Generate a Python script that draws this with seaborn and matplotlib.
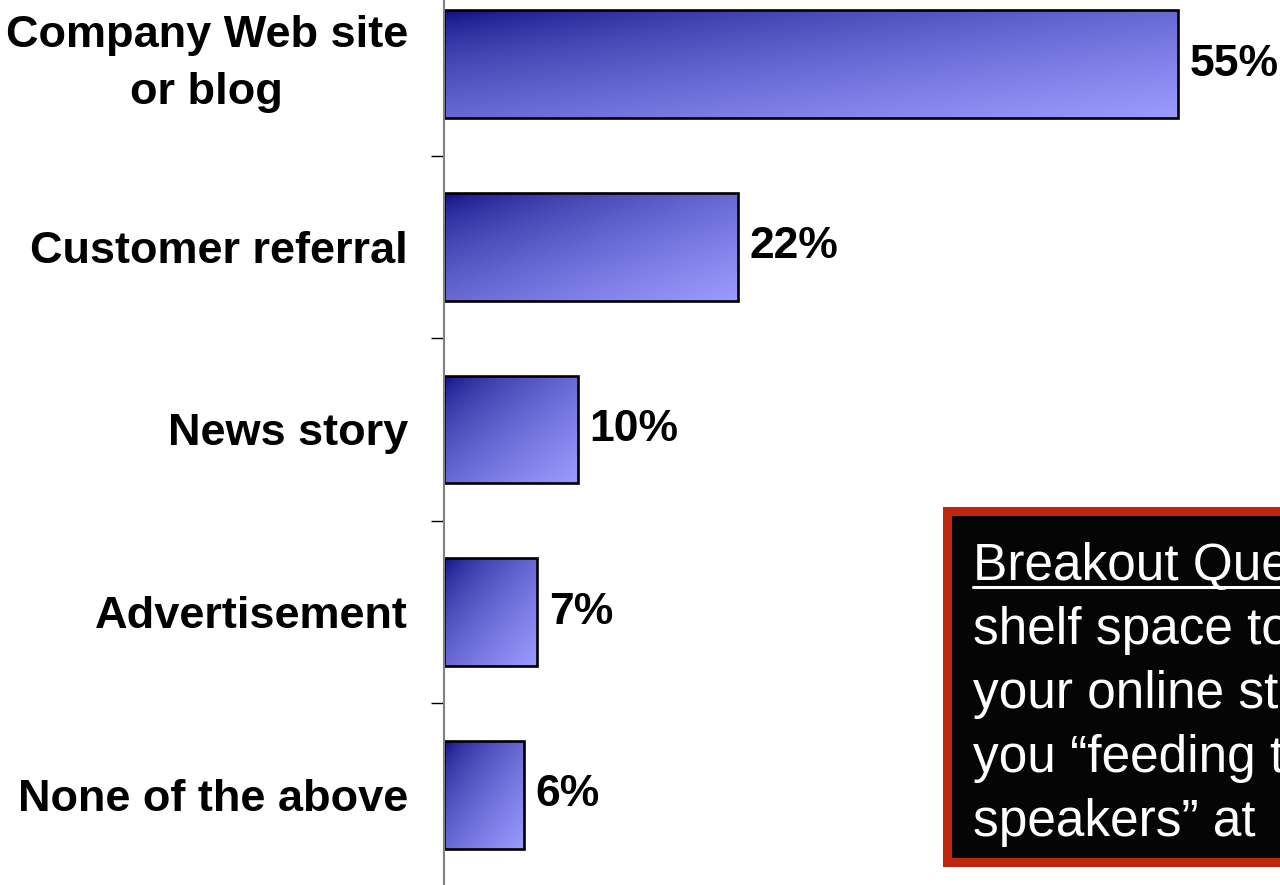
import numpy as np
import pandas as pd
import matplotlib
matplotlib.use("Agg")
import matplotlib.pyplot as plt
from matplotlib.colors import LinearSegmentedColormap
from matplotlib.patches import Rectangle
from matplotlib.lines import Line2D
import seaborn as sns

categories = ["Company Web site\nor blog", "Customer referral", "News story",
              "Advertisement", "None of the above"]
shares = [55, 22, 10, 7, 6]
value_labels = ["55%", "22%", "10%", "7%", "6%"]
callout_lines = ["Breakout Question:", "shelf space to", "your online store",
                 "you \u201cfeeding the", "speakers\u201d at"]

sns.set_theme(style="white")
plt.rcParams["font.family"] = ["Liberation Sans", "DejaVu Sans"]

W, H, DPI = 1280, 885, 100
fig = plt.figure(figsize=(W / DPI, H / DPI), dpi=DPI)
fig.patch.set_facecolor("white")

# axes: left spine at x=444px, rows 183px tall, top row partly above the canvas
ax = fig.add_axes([444 / W, -1 / H, (W - 444) / W, 913 / H])
ax.set_facecolor("white")

df = pd.DataFrame({"category": categories, "share": shares})
sns.barplot(data=df, x="share", y="category", orient="h", width=0.59,
            color="#5050b0", edgecolor="black", linewidth=1.9, ax=ax)

XMAX = 836 / 13.35
ax.set_xlim(0, XMAX)
ax.set_ylim(4.5, -0.5)

# diagonal gradient fill (dark navy top-left -> periwinkle bottom-right)
grad_cmap = LinearSegmentedColormap.from_list("bar_grad", ["#08087e", "#9a9aff"])
gy, gx = np.mgrid[0:1:120j, 0:1:300j]
grad = ((gx + gy) / 2.0) ** 0.6
for p in ax.patches:
    x0, y0 = p.get_x(), p.get_y()
    w, h = p.get_width(), p.get_height()
    p.set_facecolor("none")
    im = ax.imshow(grad, cmap=grad_cmap, vmin=0, vmax=1, aspect="auto",
                   extent=(x0, x0 + w, y0 + h, y0), origin="upper",
                   interpolation="bilinear", zorder=p.get_zorder() - 0.1)
    im.set_clip_path(p)
ax.set_xlim(0, XMAX)
ax.set_ylim(4.5, -0.5)

# value labels
for i, (v, lab) in enumerate(zip(shares, value_labels)):
    ax.text(v + 0.85, i, lab, va="center", ha="left", fontsize=32,
            fontweight="bold", color="black")

# category labels and separator ticks
ax.set_xlabel("")
ax.set_ylabel("")
ax.set_xticks([])
ax.set_yticks(range(len(categories)))
ax.set_yticklabels(categories, fontsize=32.5, fontweight="bold",
                   multialignment="center", linespacing=1.5, color="black")
ax.get_yticklabels()[0].set_verticalalignment("center")
ax.tick_params(axis="y", which="major", length=0, pad=26)
ax.set_yticks([0.5, 1.5, 2.5, 3.5], minor=True)
ax.tick_params(axis="y", which="minor", length=9.5, width=1.0, color="black",
               left=True)

for s in ["top", "right", "bottom"]:
    ax.spines[s].set_visible(False)
ax.spines["left"].set_color("#808080")
ax.spines["left"].set_linewidth(1.5)

# callout box with red frame
fig.add_artist(Rectangle((943 / W, 1 - 867 / H), 400 / W, 360 / H,
                         transform=fig.transFigure, facecolor="#c0260e",
                         edgecolor="none", zorder=5))
fig.add_artist(Rectangle((952 / W, 1 - 858 / H), 400 / W, 342 / H,
                         transform=fig.transFigure, facecolor="#050505",
                         edgecolor="none", zorder=6))
baselines = [580, 644, 708, 772, 836]
for txt, yb in zip(callout_lines, baselines):
    fig.text(973 / W, 1 - yb / H, txt, ha="left", va="baseline",
             fontsize=37, color="white", zorder=7)
fig.add_artist(Line2D([973 / W, 1.1], [1 - 587 / H, 1 - 587 / H],
                      transform=fig.transFigure, color="white",
                      linewidth=2.2, zorder=7))

fig.savefig("out.png", dpi=DPI, facecolor="white")
